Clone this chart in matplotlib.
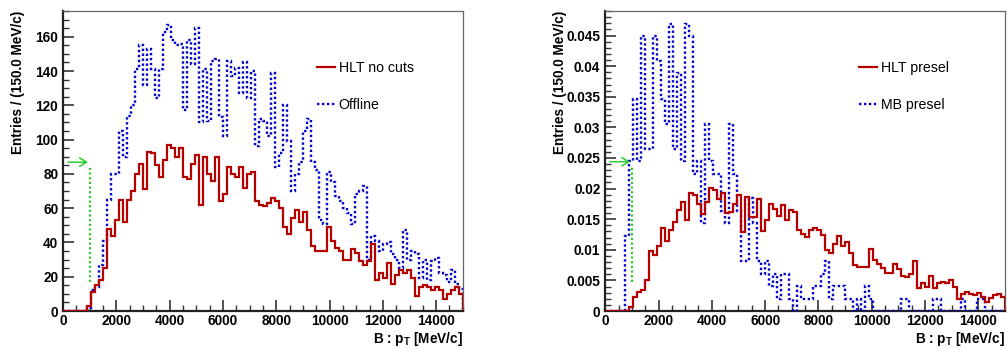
import numpy as np
import matplotlib.pyplot as plt
from matplotlib.lines import Line2D
from matplotlib.ticker import MultipleLocator, FuncFormatter

plt.rcParams["font.family"] = ["Liberation Sans", "DejaVu Sans"]
plt.rcParams["font.weight"] = "bold"
plt.rcParams["axes.labelweight"] = "bold"
plt.rcParams["mathtext.fontset"] = "custom"
plt.rcParams["mathtext.rm"] = "Liberation Sans:bold"
plt.rcParams["mathtext.bf"] = "Liberation Sans:bold"

# 100 bins of 150 MeV/c from 0 to 15 GeV/c
BIN_WIDTH = 150.0
N_BINS = 100
PT_CUT = 1000.0

# B pT, raw entries
hlt_nocuts = [
    0, 0, 0, 0, 0, 0, 3, 11, 15, 18,
    25, 48, 44, 53, 65, 52, 65, 70, 80, 86,
    71, 93, 92, 85, 78, 88, 97, 95, 90, 95,
    78, 77, 86, 91, 62, 90, 80, 76, 90, 64,
    68, 84, 80, 78, 84, 72, 80, 81, 64, 62,
    61, 63, 66, 64, 60, 49, 45, 54, 59, 52,
    58, 47, 38, 35, 35, 35, 49, 41, 37, 35,
    30, 30, 36, 34, 29, 27, 29, 39, 18, 22,
    19, 28, 16, 21, 24, 22, 24, 19, 9, 14,
    15, 14, 12, 14, 12, 7, 10, 12, 14, 10,
]
offline = [
    0, 0, 0, 0, 0, 0, 2, 12, 14, 27,
    41, 65, 80, 80, 105, 90, 114, 120, 141, 155,
    132, 153, 141, 124, 141, 163, 167, 158, 155, 156,
    117, 158, 144, 165, 110, 141, 111, 146, 147, 113,
    102, 146, 137, 142, 127, 145, 124, 140, 96, 112,
    111, 102, 139, 84, 92, 120, 99, 70, 80, 87,
    105, 112, 87, 82, 53, 51, 81, 75, 67, 64,
    60, 57, 51, 68, 70, 73, 30, 44, 41, 35,
    39, 40, 33, 30, 25, 47, 30, 35, 33, 19,
    30, 18, 29, 31, 22, 21, 17, 24, 16, 13,
]

# B pT after preselection, normalised
hlt_presel = [
    0, 0, 0, 0, 0, 0, 0.0007, 0.0023, 0.0031, 0.0035,
    0.0050, 0.0098, 0.0091, 0.0107, 0.0135, 0.0115, 0.0132, 0.0145, 0.0165, 0.0178,
    0.0148, 0.0192, 0.0189, 0.0175, 0.0159, 0.0178, 0.0201, 0.0197, 0.0183, 0.0193,
    0.0160, 0.0162, 0.0175, 0.0189, 0.0129, 0.0186, 0.0154, 0.0154, 0.0183, 0.0130,
    0.0148, 0.0175, 0.0167, 0.0156, 0.0173, 0.0148, 0.0165, 0.0162, 0.0132, 0.0126,
    0.0121, 0.0132, 0.0136, 0.0132, 0.0124, 0.0100, 0.0094, 0.0110, 0.0122, 0.0107,
    0.0113, 0.0094, 0.0075, 0.0072, 0.0072, 0.0072, 0.0102, 0.0084, 0.0077, 0.0071,
    0.0062, 0.0062, 0.0076, 0.0069, 0.0058, 0.0055, 0.0061, 0.0082, 0.0038, 0.0045,
    0.0039, 0.0058, 0.0037, 0.0045, 0.0047, 0.0045, 0.0051, 0.0039, 0.0020, 0.0028,
    0.0031, 0.0028, 0.0026, 0.0030, 0.0023, 0.0015, 0.0022, 0.0026, 0.0028, 0.0023,
]
mb_presel = [
    0, 0, 0, 0, 0, 0.0122, 0.0245, 0.0347, 0.0245, 0.0449,
    0.0265, 0.0265, 0.0449, 0.0408, 0.0347, 0.0306, 0.0469, 0.0265, 0.0388, 0.0245,
    0.0469, 0.0449, 0.0224, 0.0245, 0.0143, 0.0306, 0.0245, 0.0224, 0.0224, 0.0163,
    0.0143, 0.0306, 0.0224, 0.0163, 0.0082, 0.0082, 0.0184, 0.0143, 0.0082, 0.0061,
    0.0082, 0.0041, 0.0061, 0.0020, 0.0061, 0.0061, 0.0020, 0, 0.0041, 0.0020,
    0.0020, 0.0020, 0.0041, 0.0041, 0.0061, 0.0082, 0.0020, 0.0041, 0.0041, 0.0041,
    0.0020, 0.0020, 0, 0.0020, 0, 0.0041, 0.0020, 0, 0, 0,
    0, 0, 0, 0, 0.0020, 0.0020, 0, 0, 0, 0,
    0, 0, 0.0020, 0.0020, 0, 0, 0, 0, 0, 0.0020,
    0, 0, 0, 0.0020, 0.0020, 0, 0, 0, 0, 0,
]

RED = "#b50000"
BLUE = "#0000c8"
GREEN = "#2ecc2e"
DOTS = (0, (1, 1.1))

edges = np.arange(N_BINS + 1) * BIN_WIDTH


def _style_axes(ax, ymax, y_major, y_minor, y_fmt):
    ax.set_xlim(0, N_BINS * BIN_WIDTH)
    ax.set_ylim(0, ymax)
    ax.xaxis.set_major_locator(MultipleLocator(2000))
    ax.xaxis.set_minor_locator(MultipleLocator(500))
    ax.yaxis.set_major_locator(MultipleLocator(y_major))
    ax.yaxis.set_minor_locator(MultipleLocator(y_minor))
    ax.yaxis.set_major_formatter(FuncFormatter(y_fmt))
    ax.tick_params(which="both", direction="in", top=False, right=False,
                   color="#333333", labelsize=9.8)
    ax.tick_params(which="major", length=8, width=1.2, pad=3.5)
    ax.tick_params(which="minor", length=4, width=1.0)
    ax.tick_params(axis="x", which="major", pad=2.5)
    for side in ("left", "bottom"):
        ax.spines[side].set_linewidth(1.6)
        ax.spines[side].set_color("#222222")
    for side in ("top", "right"):
        ax.spines[side].set_linewidth(0.9)
        ax.spines[side].set_color("#666666")

    ax.set_ylabel("Entries / (150.0 MeV/c)", loc="top", fontsize=9.8)
    ax.yaxis.set_label_coords(-0.095, 1.0)
    ax.set_xlabel(r"B : $\mathbf{p}_{\mathbf{T}}$ [MeV/c]", loc="right", fontsize=9.8)
    ax.xaxis.set_label_coords(1.0, -0.063)


def _draw_panel(ax, red, blue, red_label, blue_label):
    ax.stairs(blue, edges, color=BLUE, lw=1.7, linestyle=DOTS, zorder=3)
    ax.stairs(red, edges, color=RED, lw=1.6, zorder=4)

    # pT cut marker, scaled to the peak of the dotted histogram
    peak = max(blue)
    ax.plot([PT_CUT, PT_CUT], [0.1 * peak, 0.5 * peak], color=GREEN, lw=1.6,
            linestyle=DOTS, zorder=2)
    ax.annotate("", xy=(PT_CUT - 60, 0.52 * peak), xytext=(180, 0.52 * peak),
                arrowprops=dict(arrowstyle="->,head_length=0.5,head_width=0.3",
                                color=GREEN, lw=1.1, shrinkA=0, shrinkB=0))

    handles = [Line2D([], [], color=RED, lw=1.6),
               Line2D([], [], color=BLUE, lw=1.7, linestyle=DOTS)]
    ax.legend(handles, [red_label, blue_label], loc="upper left",
              bbox_to_anchor=(0.635, 0.835), frameon=False,
              prop={"weight": "normal", "size": 10.2},
              handlelength=1.3, handletextpad=0.25, labelspacing=1.65,
              borderpad=0, borderaxespad=0)


fig = plt.figure(figsize=(10.07, 3.5), dpi=100)
ax1 = fig.add_axes([0.0626, 0.1114, 0.397, 0.857])
ax2 = fig.add_axes([0.601, 0.1114, 0.397, 0.857])

_draw_panel(ax1, hlt_nocuts, offline, "HLT no cuts", "Offline")
_style_axes(ax1, 175, 20, 5, lambda v, p: f"{v:.0f}")

_draw_panel(ax2, hlt_presel, mb_presel, "HLT presel", "MB presel")
_style_axes(ax2, 0.049, 0.005, 0.001, lambda v, p: f"{v:g}")

fig.savefig("out.png", dpi=100)
